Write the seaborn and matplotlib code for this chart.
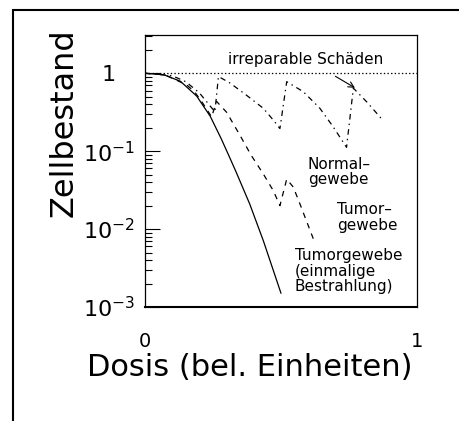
import numpy as np
import pandas as pd
import matplotlib
matplotlib.use('Agg')
import matplotlib.pyplot as plt
from matplotlib.patches import Rectangle
from matplotlib.ticker import LogLocator, NullFormatter
import seaborn as sns

sns.set_theme(style='white', rc={'lines.scale_dashes': False,
                                 'text.color': 'black', 'axes.labelcolor': 'black',
                                 'xtick.color': 'black', 'ytick.color': 'black'})
plt.rcParams['font.family'] = ['DejaVu Sans']

# Survival curves (dose in arbitrary units, surviving fraction)
dose_single = [0, 0.07, 0.13, 0.19, 0.24, 0.28, 0.31, 0.335, 0.385, 0.435, 0.5]
surv_single = [1.0, 0.955, 0.79, 0.51, 0.28, 0.145, 0.085, 0.054, 0.021, 0.0071, 0.0015]

dose_tumor = [0, 0.07, 0.153, 0.18, 0.204, 0.223, 0.245, 0.263, 0.30, 0.35, 0.39,
              0.435, 0.472, 0.496, 0.521, 0.545, 0.57, 0.594, 0.625]
surv_tumor = [1.0, 0.966, 0.71, 0.59, 0.457, 0.363, 0.275, 0.436, 0.316, 0.158, 0.089,
              0.051, 0.031, 0.020, 0.0437, 0.0347, 0.0209, 0.0126, 0.0066]

dose_normal = [0, 0.1, 0.15, 0.2, 0.257, 0.27, 0.3125, 0.374, 0.435, 0.472, 0.496,
               0.521, 0.582, 0.643, 0.69, 0.741, 0.766, 0.815, 0.87]
surv_normal = [1.0, 0.93, 0.78, 0.56, 0.32, 0.91, 0.75, 0.52, 0.355, 0.25, 0.195,
               0.78, 0.58, 0.355, 0.21, 0.112, 0.645, 0.43, 0.26]

ytick_vals = [1e-3, 1e-2, 1e-1, 1]
ytick_labels = ['$10^{-3}$', '$10^{-2}$', '$10^{-1}$', '1']

fig = plt.figure(figsize=(4.6, 4.21), dpi=100)
ax = fig.add_axes([145 / 460, 1 - 307 / 421, 272 / 460, 272 / 421])

# outer frame (only left and top edges fall inside the picture)
fig.add_artist(Rectangle((13 / 460, -0.5), 2, 1 - 10 / 421 + 0.5,
                         transform=fig.transFigure, fill=False, lw=1.5, ec='black'))

ax.axhline(1, color='black', lw=0.9, linestyle=(0, (1, 1.6)))
sns.lineplot(x=dose_single, y=surv_single, ax=ax, color='black', lw=0.9,
             estimator=None, sort=False)
sns.lineplot(x=dose_tumor, y=surv_tumor, ax=ax, color='black', lw=0.9,
             estimator=None, sort=False, linestyle=(0, (4, 4)))
sns.lineplot(x=dose_normal, y=surv_normal, ax=ax, color='black', lw=0.9,
             estimator=None, sort=False, linestyle=(0, (4, 3, 1, 3)))

ax.set_yscale('log')
ax.set_xlim(0, 1)
ax.set_ylim(1e-3, 3.1)
ax.set_yticks(ytick_vals)
ax.set_yticklabels(ytick_labels)
ax.yaxis.set_minor_locator(LogLocator(base=10, subs=np.arange(2, 10), numticks=20))
ax.yaxis.set_minor_formatter(NullFormatter())
ax.set_xticks([0, 1])
ax.set_xticklabels(['0', '1'])

ax.tick_params(axis='y', which='major', direction='in', length=11, width=0.8,
               labelsize=16, pad=26, left=True, right=False)
ax.tick_params(axis='y', which='minor', direction='in', length=5, width=0.8,
               left=True, right=False)
ax.tick_params(axis='x', length=0, pad=18, labelsize=14)
for lab in ax.get_yticklabels():
    lab.set_horizontalalignment('center')

for s in ax.spines.values():
    s.set_color('black')
    s.set_linewidth(0.9)
ax.spines['bottom'].set_linewidth(1.5)

ax.set_xlabel('Dosis (bel. Einheiten)', fontsize=22, loc='right')
ax.xaxis.set_label_coords(0.985, -0.17)
ax.set_ylabel('Zellbestand', fontsize=23, loc='top')
ax.yaxis.set_label_coords(-0.239, 1.026)

ax.text(0.305, 1.49, 'irreparable Schäden', fontsize=11, va='center', ha='left')
ax.annotate('', xy=(0.772, 0.65), xytext=(0.70, 0.915),
            arrowprops=dict(arrowstyle='->', lw=0.8, color='black',
                            shrinkA=0, shrinkB=0, mutation_scale=10))
ax.text(0.599, 0.0845, 'Normal–\ngewebe', fontsize=11, va='top', ha='left',
        linespacing=1.05)
ax.text(0.705, 0.0223, 'Tumor–\ngewebe', fontsize=11, va='top', ha='left',
        linespacing=1.05)
ax.text(0.551, 0.00571, 'Tumorgewebe\n(einmalige\nBestrahlung)', fontsize=11,
        va='top', ha='left', linespacing=1.05)

fig.savefig('out.png', dpi=100)
